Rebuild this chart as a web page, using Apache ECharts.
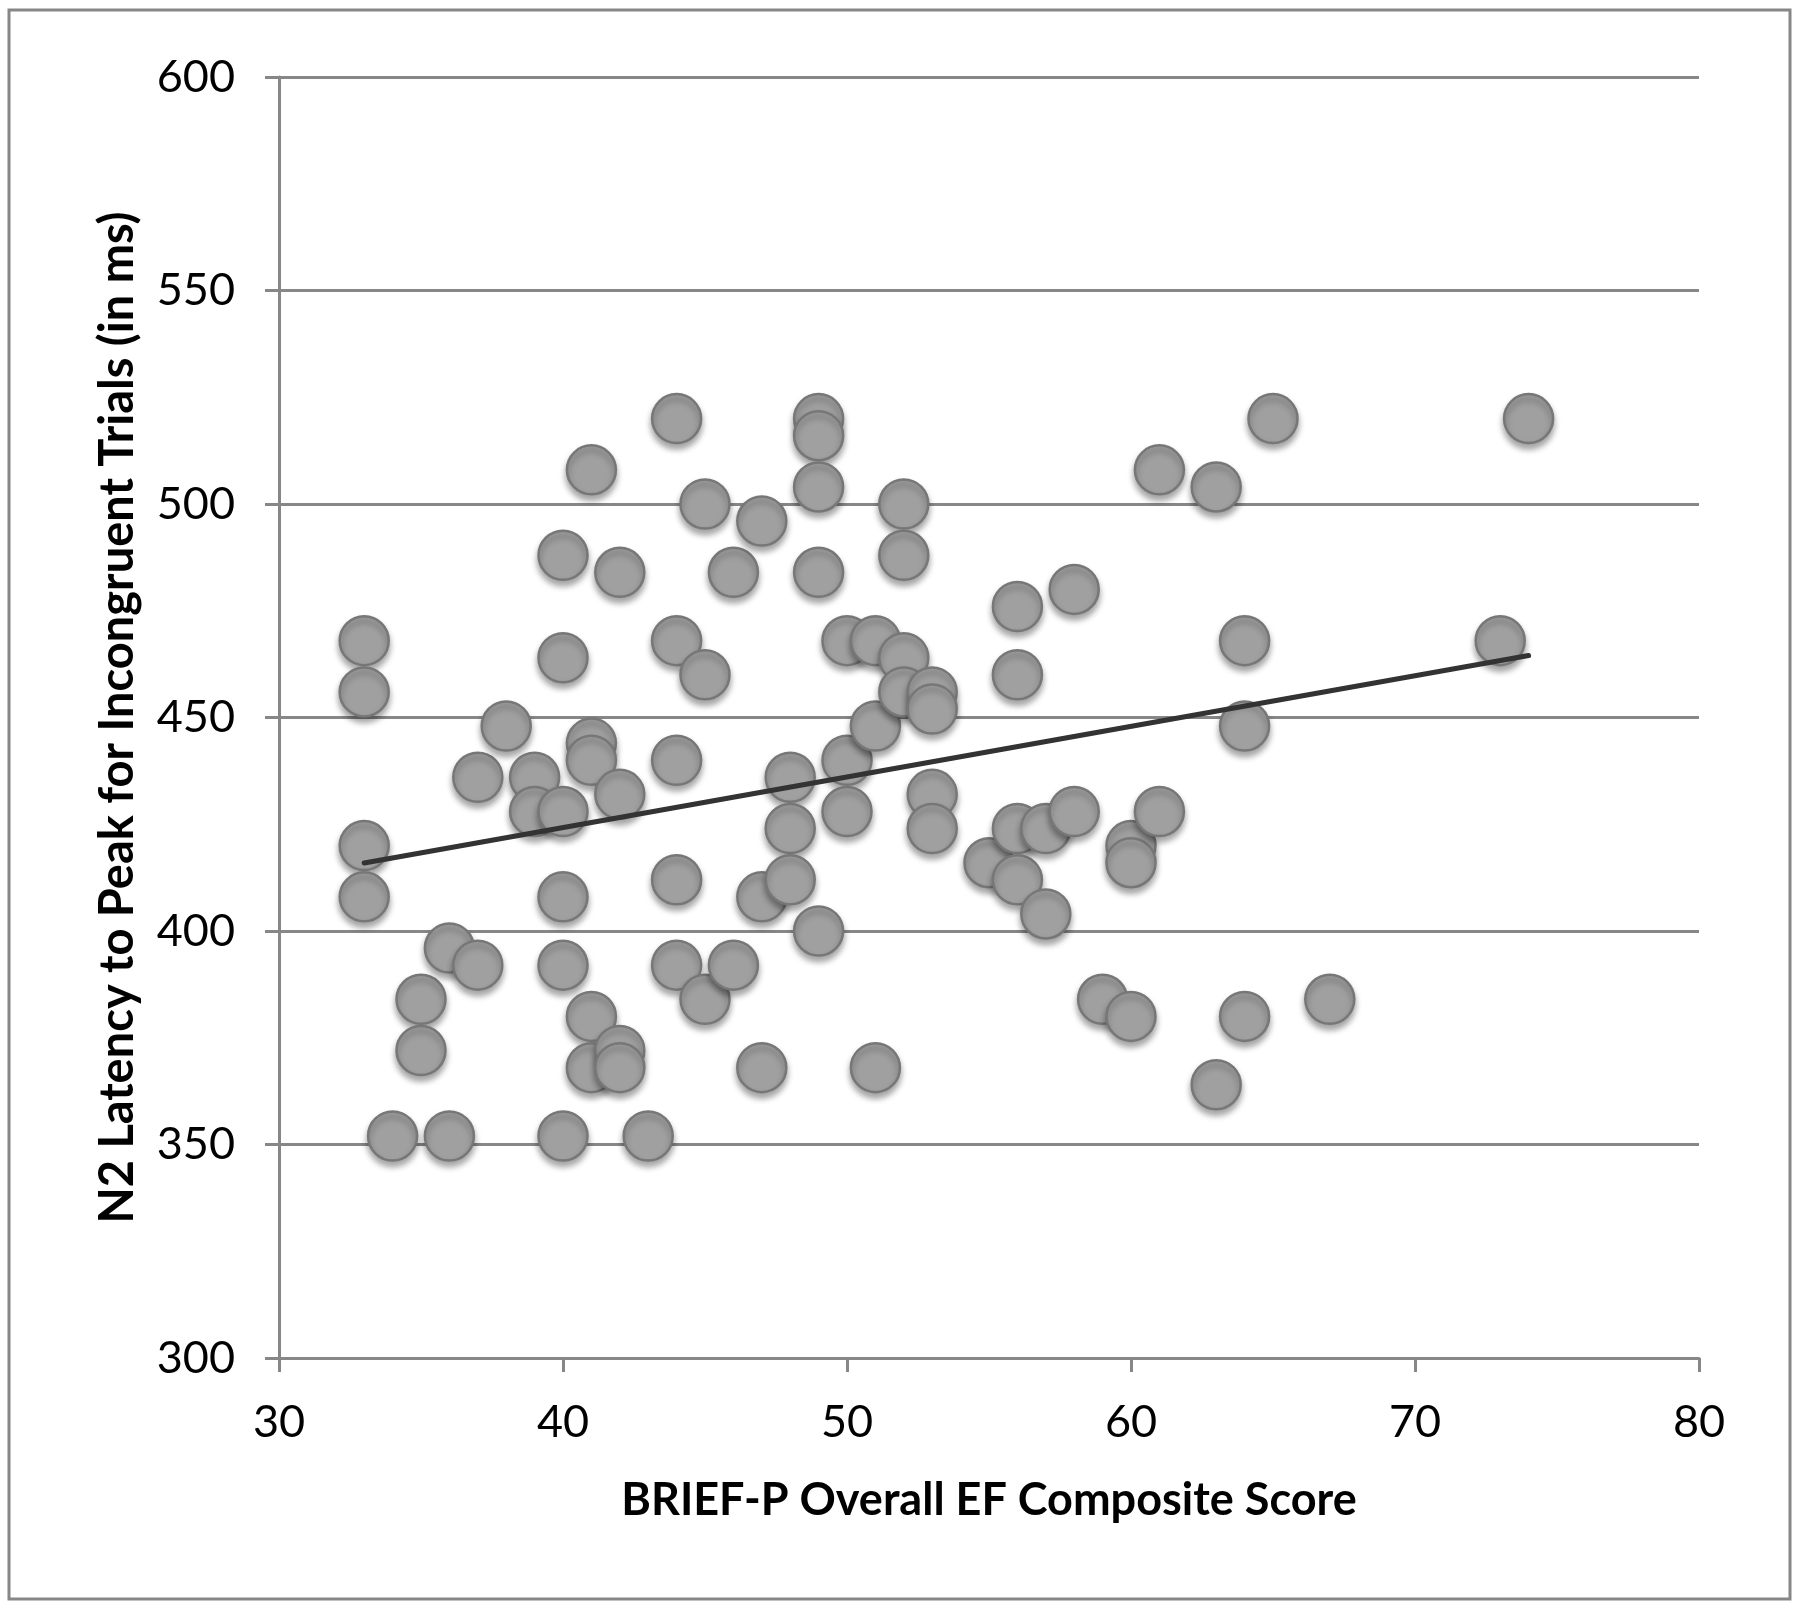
<!DOCTYPE html>
<html>
<head>
<meta charset="utf-8">
<title>N2 latency vs BRIEF-P</title>
<script src="https://cdn.jsdelivr.net/npm/echarts@6/dist/echarts.min.js"></script>
<style>
  html, body { margin: 0; padding: 0; background: #fff; }
  #chart { width: 1800px; height: 1608px; }
</style>
</head>
<body>
<div id="chart"></div>
<script>
// BRIEF-P overall EF composite score (x) for each child
var briefScores = [
  33, 33, 33, 33, 34, 35, 35, 36, 36, 37, 37, 38, 39, 39,
  40, 40, 40, 40, 40, 40, 41, 41, 41, 41, 41, 42, 42, 42, 42, 43,
  44, 44, 44, 44, 44, 45, 45, 45, 46, 46, 47, 47, 47, 48, 48, 48,
  49, 49, 49, 49, 49, 50, 50, 50, 51, 51, 51, 52, 52, 52, 52,
  53, 53, 53, 53, 55, 56, 56, 56, 56, 57, 57, 58, 58, 59,
  60, 60, 60, 61, 61, 63, 63, 64, 64, 64, 65, 67, 73, 74
]
// N2 latency to peak for incongruent trials, ms (y)
var n2Latency = [
  468, 456, 420, 408, 352, 384, 372, 396, 352, 436, 392, 448, 436, 428,
  488, 464, 428, 408, 392, 352, 508, 444, 440, 380, 368, 484, 432, 372, 368, 352,
  520, 468, 440, 412, 392, 500, 460, 384, 484, 392, 496, 408, 368, 436, 424, 412,
  520, 516, 504, 484, 400, 468, 440, 428, 468, 448, 368, 500, 488, 464, 456,
  456, 452, 432, 424, 416, 476, 460, 424, 412, 424, 404, 480, 428, 384,
  420, 416, 380, 508, 428, 504, 364, 468, 448, 380, 520, 384, 468, 520
]
var xTicks = [30, 80, 10]
var yTicks = [300, 600, 50]

var points = []
for (var i = 0; i < briefScores.length; i++) {
  points.push([briefScores[i], n2Latency[i]])
}

// least squares trend line over the range of x
function trendLine (xs, ys) {
  var n = xs.length, sx = 0, sy = 0, sxx = 0, sxy = 0
  for (var i = 0; i < n; i++) {
    sx += xs[i]; sy += ys[i]; sxx += xs[i] * xs[i]; sxy += xs[i] * ys[i]
  }
  var b = (n * sxy - sx * sy) / (n * sxx - sx * sx)
  var a = (sy - b * sx) / n
  var lo = Math.min.apply(null, xs), hi = Math.max.apply(null, xs)
  return [[lo, a + b * lo], [hi, a + b * hi]]
}

var chart = echarts.init(document.getElementById('chart'))
var gridColor = '#878787'
var font = 'Lato, "Open Sans", sans-serif'

var option = {
  backgroundColor: '#ffffff',
  animation: false,
  graphic: [{
    type: 'rect',
    shape: { x: 9, y: 10, width: 1781, height: 1589 },
    style: { fill: 'none', stroke: gridColor, lineWidth: 3 }
  }],
  grid: {
    left: 279,
    top: 77,
    right: 101,
    bottom: 250
  },
  xAxis: {
    type: 'value',
    min: xTicks[0],
    max: xTicks[1],
    interval: xTicks[2],
    name: 'BRIEF-P Overall EF Composite Score',
    nameLocation: 'middle',
    nameGap: 120,
    nameTextStyle: { fontFamily: font, fontWeight: 'bold', fontSize: 45, color: '#000' },
    axisLine: { show: true, lineStyle: { color: gridColor, width: 3 } },
    axisTick: { show: true, length: 14, lineStyle: { color: gridColor, width: 3 } },
    axisLabel: { margin: 42, fontFamily: font, fontSize: 45, color: '#000' },
    splitLine: { show: false }
  },
  yAxis: {
    type: 'value',
    min: yTicks[0],
    max: yTicks[1],
    interval: yTicks[2],
    name: 'N2 Latency to Peak for Incongruent Trials (in ms)',
    nameLocation: 'middle',
    nameGap: 138,
    nameTextStyle: { fontFamily: font, fontWeight: 'bold', fontSize: 47, color: '#000' },
    axisLine: { show: true, lineStyle: { color: gridColor, width: 3 } },
    axisTick: { show: true, length: 14, lineStyle: { color: gridColor, width: 3 } },
    axisLabel: { margin: 44, fontFamily: font, fontSize: 45, color: '#000' },
    splitLine: { show: true, lineStyle: { color: gridColor, width: 3 } }
  },
  series: [{
    name: 'N2 latency',
    type: 'scatter',
    data: points,
    symbol: 'circle',
    symbolSize: 49,
    z: 2,
    itemStyle: {
      color: '#a0a0a0',
      borderColor: '#777777',
      borderWidth: 2.5,
      opacity: 1,
      shadowBlur: 6,
      shadowOffsetY: 5,
      shadowColor: 'rgba(0,0,0,0.35)'
    }
  }, {
    name: 'Linear trend',
    type: 'line',
    data: trendLine(briefScores, n2Latency),
    showSymbol: false,
    symbol: 'none',
    z: 3,
    lineStyle: { color: '#333333', width: 5, cap: 'round' }
  }]
}
chart.setOption(option)
</script>
</body>
</html>
